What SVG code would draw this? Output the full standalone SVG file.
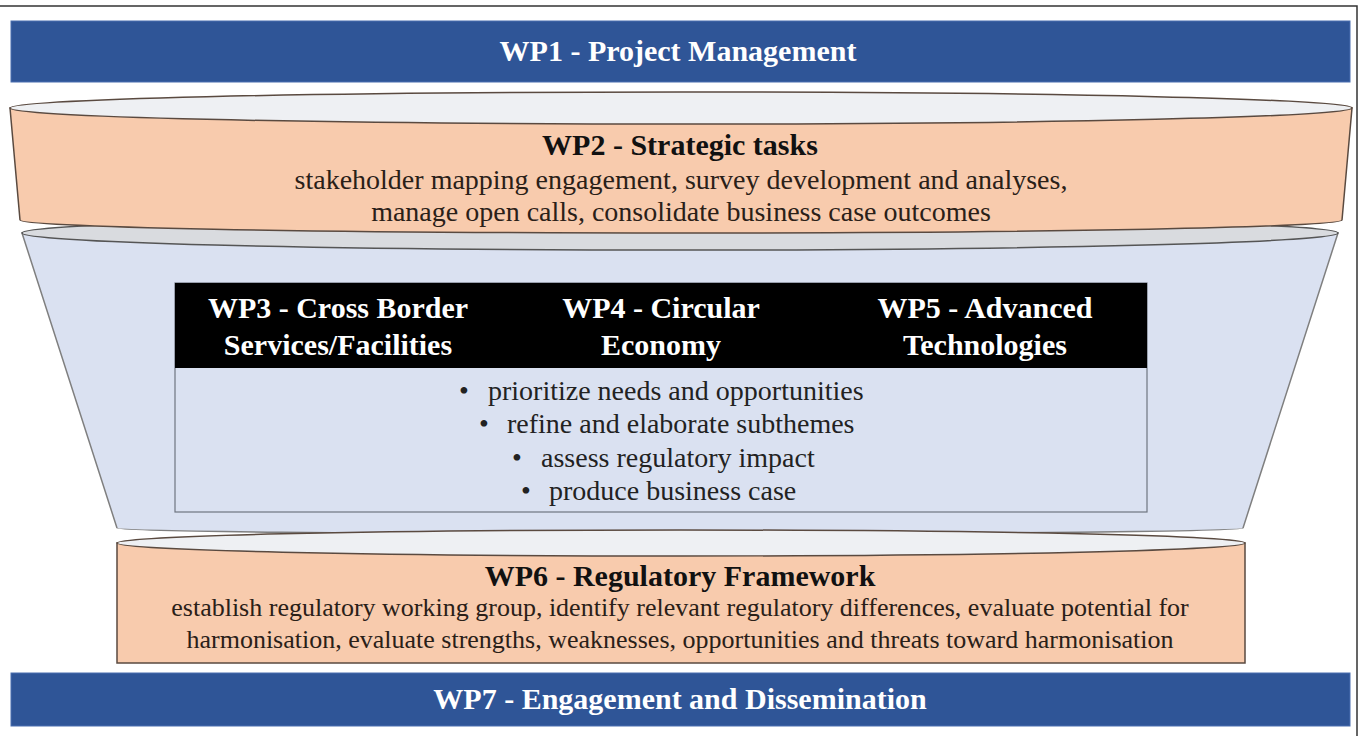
<svg xmlns="http://www.w3.org/2000/svg" width="1361" height="736" viewBox="0 0 1361 736">
<style>
  .bar{fill:#2F5597;stroke:#4A6FB0;stroke-width:1}
  .peach{fill:#F8CBAD;stroke:#5A4A40;stroke-width:1.5}
  .lid{fill:#EEF0F3;stroke:#5A4A40;stroke-width:1.5}
  .lidg{fill:#D9DBDF;stroke:#555;stroke-width:1.5}
  .funnel{fill:#DAE1F1;stroke:#7F7F7F;stroke-width:1.5}
  .t{font-family:"Liberation Serif","Times New Roman",serif;text-anchor:middle}
  .b{font-weight:bold;font-size:30px}
  .w{fill:#FFFFFF}
  .k{fill:#111111}
  .d{font-size:28px;fill:#2A2018}
  .d6{font-size:26px;fill:#2A2018}
  .bl{font-family:"Liberation Serif","Times New Roman",serif;font-size:28px;fill:#222}
</style>
<rect x="0" y="0" width="1361" height="736" fill="#FFFFFF"/>
<path d="M0,6 H1357 V736" fill="none" stroke="#333" stroke-width="1.5"/>

<g id="wp1">
  <rect class="bar" x="11" y="21" width="1339" height="61"/>
  <text class="t b w" x="678" y="61">WP1 - Project Management</text>
</g>

<g id="funnel">
  <path class="funnel" d="M22,233 L117,528 A563,6 0 0 0 1243,528 L1338,233 Z"/>
  <ellipse class="lidg" cx="680" cy="233" rx="658" ry="17"/>
  <rect x="175" y="283" width="972" height="229" fill="#DAE1F1" stroke="#6F7580" stroke-width="1.2"/>
  <rect x="175" y="283" width="972" height="85" fill="#000000"/>
</g>

<g id="wp2">
  <path class="peach" d="M10,108 L20,220 A661,13 0 0 0 1342,220 L1352,108 Z"/>
  <ellipse class="lid" cx="681" cy="108" rx="671" ry="16"/>
  <text class="t b k" x="680" y="155">WP2 - Strategic tasks</text>
  <text class="t d" x="681" y="189">stakeholder mapping engagement, survey development and analyses,</text>
  <text class="t d" x="681" y="221">manage open calls, consolidate business case outcomes</text>
</g>

<g id="wp3">
  <text class="t b w" x="338" y="318">WP3 - Cross Border</text>
  <text class="t b w" x="338" y="355">Services/Facilities</text>
</g>
<g id="wp4">
  <text class="t b w" x="661" y="318">WP4 - Circular</text>
  <text class="t b w" x="661" y="355">Economy</text>
</g>
<g id="wp5">
  <text class="t b w" x="985" y="318">WP5 - Advanced</text>
  <text class="t b w" x="985" y="355">Technologies</text>
</g>

<g id="tasks">
  <text class="bl" x="459" y="400">•</text>
  <text class="bl" x="488" y="400">prioritize needs and opportunities</text>
  <text class="bl" x="479" y="433">•</text>
  <text class="bl" x="507" y="433">refine and elaborate subthemes</text>
  <text class="bl" x="512" y="467">•</text>
  <text class="bl" x="541" y="467">assess regulatory impact</text>
  <text class="bl" x="521" y="500">•</text>
  <text class="bl" x="549" y="500">produce business case</text>
</g>

<g id="wp6">
  <rect class="peach" x="117" y="543" width="1128" height="120"/>
  <ellipse class="lid" cx="681" cy="543" rx="564" ry="13"/>
  <text class="t b k" x="680" y="586">WP6 - Regulatory Framework</text>
  <text class="t d6" x="680" y="616">establish regulatory working group, identify relevant regulatory differences, evaluate potential for</text>
  <text class="t d6" x="680" y="648">harmonisation, evaluate strengths, weaknesses, opportunities and threats toward harmonisation</text>
</g>

<g id="wp7">
  <rect class="bar" x="11" y="673" width="1339" height="53"/>
  <text class="t b w" x="680" y="709">WP7 - Engagement and Dissemination</text>
</g>
</svg>
